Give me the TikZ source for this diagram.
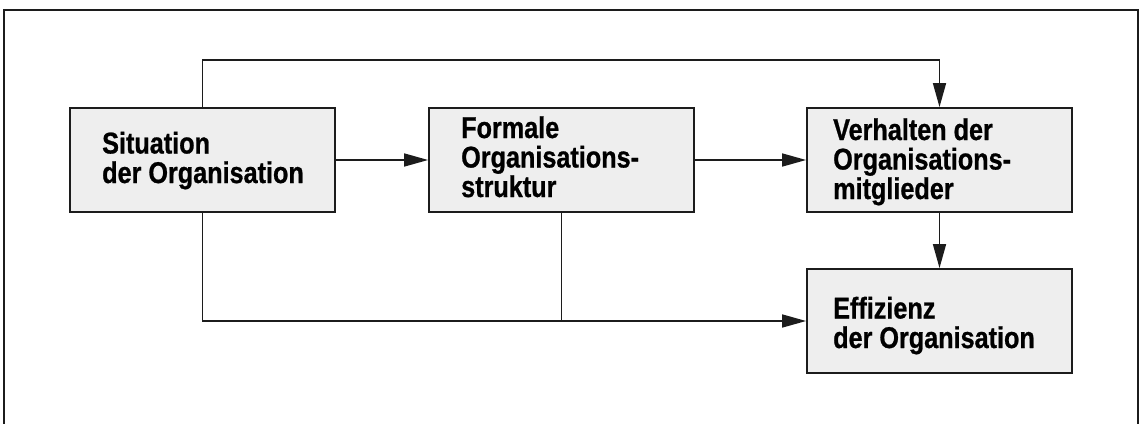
\documentclass[tikz,border=0pt]{standalone}
\usepackage{fontspec}
\setmainfont{Liberation Sans}[FakeStretch=0.84, BoldFeatures={FakeBold=0.8}]
\usetikzlibrary{arrows.meta}
\definecolor{boxfill}{HTML}{EEEEEE}
\definecolor{ink}{HTML}{1C1C1C}
\tikzset{
  stage/.style={draw=ink, line width=1.8pt, fill=boxfill, minimum width=265pt,
                minimum height=104pt, inner sep=0pt},
  caption/.style={anchor=base west, inner sep=0pt, align=left,
                  font=\fontsize{30pt}{29.5pt}\selectfont\bfseries, text=black},
  flow/.style={draw=ink, line width=1.6pt, -{Triangle[length=24pt,width=13pt]}},
  link/.style={draw=ink, line width=1.6pt}
}
\begin{document}
\begin{tikzpicture}[x=1pt,y=-1pt]
\useasboundingbox (0,0) rectangle (1140,423);
% open frame
\draw[ink, line width=2pt] (4,424) -- (4,10) -- (1138,10) -- (1138,424);

% stages
\node[stage] (A) at (202.5,160) {};
\node[stage] (B) at (561.5,160) {};
\node[stage] (C) at (939.5,160) {};
\node[stage] (D) at (939.5,321) {};

% captions, placed by the baseline of their last line
\node[caption] (tA) at (102,183) {Situation\\der Organisation};
\node[caption] (tB) at (461,197) {Formale\\Organisations-\\struktur};
\node[caption] (tC) at (833,199) {Verhalten der\\Organisations-\\mitglieder};
\node[caption] (tD) at (833,348) {Effizienz\\der Organisation};

% influences
\draw[flow] (A.east) -- (B.west);
\draw[flow] (B.east) -- (C.west);
\draw[flow] (C.south) -- (D.north);
\draw[flow] (A.north) -- ++(0,-47) -| (C.north);
\draw[flow] (A.south) |- (D.west);
\draw[link] (B.south) -- (B.south |- D.west);
\end{tikzpicture}
\end{document}
